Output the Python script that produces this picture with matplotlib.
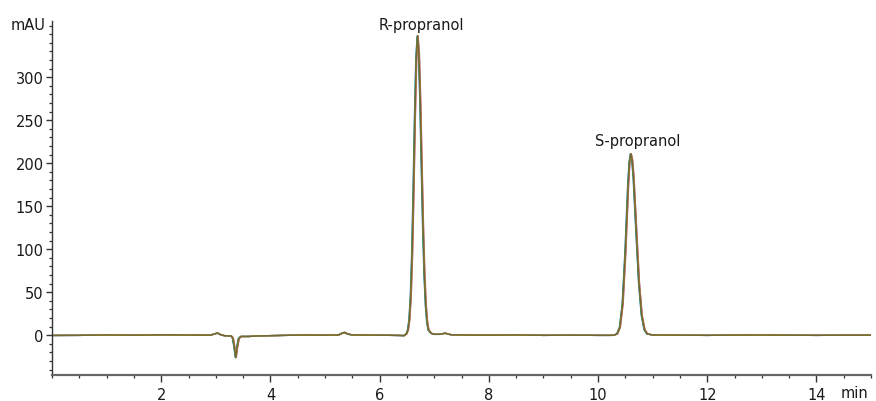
import matplotlib
matplotlib.use("Agg")
import matplotlib.pyplot as plt
from matplotlib.ticker import MultipleLocator
from matplotlib.transforms import offset_copy

plt.rcParams['font.family'] = ['DejaVu Sans']

# chromatogram trace (min, mAU)
time = [0.0, 0.5, 1.0, 1.5, 2.0, 2.5, 2.9, 2.98, 3.03, 3.08, 3.15, 3.28, 3.31,
        3.34, 3.365, 3.39, 3.42, 3.46, 3.6, 3.8, 4.2, 4.6, 5.0, 5.25, 5.32,
        5.36, 5.42, 5.5, 6.0, 6.35, 6.45, 6.495, 6.52, 6.545, 6.57, 6.595,
        6.62, 6.645, 6.67, 6.695, 6.72, 6.745, 6.77, 6.795, 6.82, 6.845,
        6.87, 6.895, 6.945, 7.0, 7.1, 7.2, 7.3, 7.5, 8.0, 8.5, 9.0, 9.5,
        10.0, 10.25, 10.30, 10.35, 10.40, 10.45, 10.50, 10.55, 10.575, 10.60,
        10.625, 10.65, 10.70, 10.75, 10.80, 10.85, 10.90, 11.0, 11.5, 12.0,
        12.5, 13.0, 13.5, 14.0, 14.5, 15.0]
signal = [-0.3, -0.2, 0.3, 0.0, 0.4, 0.2, 0.0, 1.5, 2.5, 0.8, -0.5, -1.0, -3.0,
          -14.0, -26.0, -14.0, -4.0, -1.5, -1.5, -0.8, -0.3, 0.2, 0.0, 0.3, 2.5,
          3.2, 1.2, 0.3, 0.0, -0.3, -0.5, 1.9, 6.5, 18.6, 45.7, 94.8,
          167.5, 251.4, 320.8, 348.0, 326.5, 269.7, 196.0, 125.4, 70.6, 35.0,
          15.3, 5.9, 2.2, 1.0, 1.0, 2.3, 0.6, 0.2, 0.0, 0.3, -0.2, 0.0,
          -0.2, -0.2, 0.2, 1.6, 9.3, 36.4, 96.6, 173.6, 200.9, 211.0,
          203.8, 183.7, 121.3, 60.6, 23.0, 6.6, 1.4, 0.3, 0.0, -0.2,
          0.1, 0.2, 0.0, -0.2, 0.0, 0.0]

peak_names = ['R-propranol', 'S-propranol']
label_x = [6.76, 10.72]
label_y = [356, 221]

fig = plt.figure(figsize=(8.76, 4.02), dpi=100)
ax = fig.add_axes([0.0594, 0.0647, 0.935, 0.881])

# overlaid replicate injections
colors = ['#3a7bd5', '#b04ca0', '#3c9a3c', '#d08a3a', '#726a34']
shifts = [-0.35, 0.35, -0.2, 0.2, 0.0]
for c, s in zip(colors, shifts):
    tr = offset_copy(ax.transData, fig=fig, x=s, y=0, units='points')
    ax.plot(time, signal, color=c, lw=1.0, transform=tr)

for name, x, y in zip(peak_names, label_x, label_y):
    ax.text(x, y, name, ha='center', va='baseline', fontsize=10.5, color='#1a1a1a')

ax.set_xlim(0, 15)
ax.set_ylim(-46.3, 365.6)
ax.set_xticks(range(2, 15, 2))
ax.set_yticks(range(0, 301, 50))
ax.xaxis.set_minor_locator(MultipleLocator(0.5))
ax.yaxis.set_minor_locator(MultipleLocator(10))

for side in ['top', 'right']:
    ax.spines[side].set_visible(False)
ax.spines['left'].set_color('#333333')
ax.spines['left'].set_linewidth(1.0)
ax.spines['bottom'].set_color('#666666')
ax.spines['bottom'].set_linewidth(1.6)

ax.tick_params(axis='both', which='major', direction='out', colors='#333333',
               labelcolor='#1a1a1a', labelsize=10.5, width=1.0)
ax.tick_params(axis='y', which='major', length=4, pad=2)
ax.tick_params(axis='y', which='minor', length=2.5, width=0.9, colors='#333333')
ax.tick_params(axis='x', which='major', length=5, pad=4)
ax.tick_params(axis='x', which='minor', length=2.5, width=0.9, colors='#333333')

fig.text(46 / 876, 1 - 25 / 402, 'mAU', ha='right', va='center', fontsize=10.5, color='#1a1a1a')
fig.text(855 / 876, 1 - 394 / 402, 'min', ha='center', va='center', fontsize=10.5, color='#1a1a1a')

fig.savefig('out.png', dpi=100)
